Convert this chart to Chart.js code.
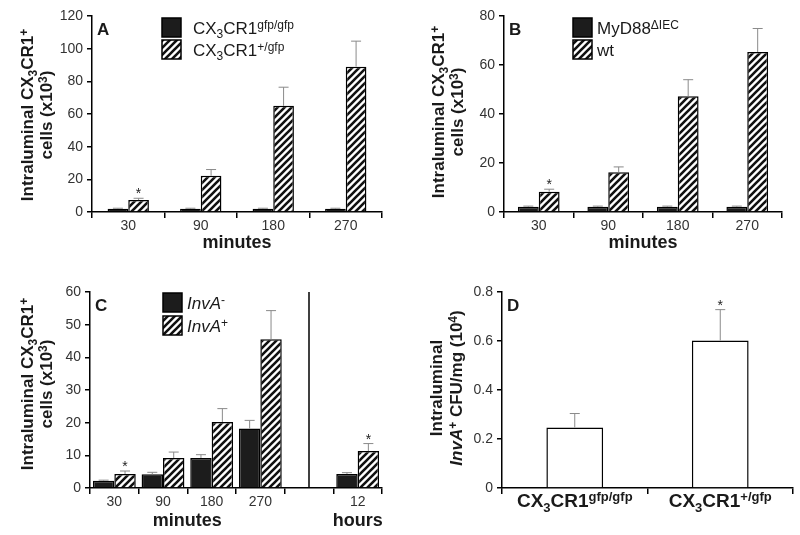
<!DOCTYPE html>
<html>
<head>
<meta charset="utf-8">
<script src="https://cdn.jsdelivr.net/npm/chart.js@4.4.1/dist/chart.umd.min.js"></script>
<style>
    html, body { margin: 0; padding: 0; background: #fff; }
    #wrap { position: relative; width: 800px; height: 535px; }
    #wrap canvas { position: absolute; }
</style>
</head>
<body>
<div id="wrap">
    <canvas id="chartA" width="400" height="260" style="left:0;top:0"></canvas>
    <canvas id="chartB" width="400" height="260" style="left:400px;top:0"></canvas>
    <canvas id="chartC" width="400" height="275" style="left:0;top:260px"></canvas>
    <canvas id="chartD" width="400" height="275" style="left:400px;top:260px"></canvas>
</div>
<script>
/* ---------- data ---------- */
// A: CX3CR1 gfp/gfp vs +/gfp
const minuteLabels = ["30", "90", "180", "270"];
const aKoMean = [2, 2, 2, 2];
const aKoErr = [0.3, 0.3, 0.3, 0.3];
const aHetMean = [7.3, 22.2, 65, 89];
const aHetErr = [1.1, 3.8, 11.4, 15.6];
const aHetStars = ["*", "", "", ""];

// B: MyD88 dIEC vs wt
const bKoMean = [2.1, 2.1, 2.1, 2.1];
const bKoErr = [0.3, 0.3, 0.3, 0.3];
const bWtMean = [8.3, 16.2, 47.2, 65.3];
const bWtErr = [1, 2.2, 6.8, 9.6];
const bWtStars = ["*", "", "", ""];

// C: InvA- vs InvA+ (minutes, then hours)
const cLabels = ["30", "90", "180", "270", "", "12"];
const cNegMean = [2.2, 4.2, 9.2, 18.2, null, 4.3];
const cNegErr = [0.2, 0.6, 1.0, 2.5, null, 0.4];
const cPosMean = [4.3, 9.2, 20.2, 45.5, null, 11.3];
const cPosErr = [0.9, 1.8, 4.1, 8.8, null, 2.3];
const cPosStars = ["*", "", "", "", "", "*"];

// D: InvA+ CFU/mg
const dLabels = ["CX_{3}CR1^{gfp/gfp}", "CX_{3}CR1^{+/gfp}"];
const dMean = [0.247, 0.602];
const dErr = [0.057, 0.126];
const dStars = ["", "*"];

const cellsTitle = ["Intraluminal CX_{3}CR1^{+}", "cells (x10^{3})"];
const cfuTitle = ["Intraluminal", "~{InvA}^{+} CFU/mg (10^{4})"];

/* ---------- helpers ---------- */
const FONT = '"Liberation Sans", Arial, sans-serif';

function hatchPattern(){
    const s = 7;
    const c = document.createElement("canvas");
    c.width = s; c.height = s;
    const g = c.getContext("2d");
    g.fillStyle = "#fff";
    g.fillRect(0, 0, s, s);
    g.strokeStyle = "#111";
    g.lineWidth = 2.6;
    g.beginPath();
    g.moveTo(-1, 1); g.lineTo(1, -1);
    g.moveTo(-1, s + 1); g.lineTo(s + 1, -1);
    g.moveTo(s - 1, s + 1); g.lineTo(s + 1, s - 1);
    g.stroke();
    return g.createPattern(c, "repeat");
}
const HATCH = hatchPattern();
const SOLID = "#1c1c1c";

// tiny markup: _{sub} ^{sup} ~{italic}
function parseRich(str){
    const parts = [];
    const re = /([_^~])\{([^}]*)\}/g;
    let last = 0, m;
    while ((m = re.exec(str))) {
        if (m.index > last) parts.push({ t: str.slice(last, m.index) });
        parts.push({ t: m[2], k: m[1] });
        last = re.lastIndex;
    }
    if (last < str.length) parts.push({ t: str.slice(last) });
    return parts;
}

function drawRich(ctx, str, x, y, size, weight, align){
    const parts = parseRich(str);
    const small = Math.round(size * 0.7);
    const fontFor = (p) => `${p.k === "~" ? "italic " : ""}${weight} ${p.k === "_" || p.k === "^" ? small : size}px ${FONT}`;
    let w = 0;
    parts.forEach((p) => { ctx.font = fontFor(p); p.w = ctx.measureText(p.t).width; w += p.w; });
    let cx = align === "center" ? x - w / 2 : x;
    ctx.textAlign = "left";
    ctx.textBaseline = "alphabetic";
    parts.forEach((p) => {
        ctx.font = fontFor(p);
        const dy = p.k === "_" ? size * 0.25 : p.k === "^" ? -size * 0.32 : 0;
        ctx.fillText(p.t, cx, y + dy);
        cx += p.w;
    });
}

/* ---------- plugins ---------- */
const errorBars = {
    id: "errorBars",
    afterDatasetsDraw(chart){
        const ctx = chart.ctx, ys = chart.scales.y;
        chart.data.datasets.forEach((ds, i) => {
            if (!ds.errors) return;
            chart.getDatasetMeta(i).data.forEach((bar, j) => {
                const v = ds.data[j], e = ds.errors[j];
                if (v == null || e == null) return;
                const top = ys.getPixelForValue(v + e);
                ctx.save();
                ctx.strokeStyle = "#8a8a8a";
                ctx.lineWidth = 1;
                ctx.beginPath();
                ctx.moveTo(bar.x, bar.y);
                ctx.lineTo(bar.x, top);
                ctx.moveTo(bar.x - 5, top);
                ctx.lineTo(bar.x + 5, top);
                ctx.stroke();
                if (ds.stars && ds.stars[j]) {
                    ctx.fillStyle = "#222";
                    ctx.font = `14px ${FONT}`;
                    ctx.textAlign = "center";
                    ctx.textBaseline = "alphabetic";
                    ctx.fillText(ds.stars[j], bar.x, top);
                }
                ctx.restore();
            });
        });
    }
};

const panelDecor = {
    id: "panelDecor",
    afterDraw(chart, args, o){
        const ctx = chart.ctx, area = chart.chartArea, xs = chart.scales.x;
        ctx.save();
        ctx.fillStyle = "#1a1a1a";

        // panel letter
        ctx.font = `bold 17px ${FONT}`;
        ctx.textAlign = "left";
        ctx.textBaseline = "alphabetic";
        ctx.fillText(o.letter, area.left + 5, area.top + 19);

        // rotated y title
        o.yTitle.forEach((line, i) => {
            ctx.save();
            ctx.translate(o.yTitleX[i], o.yTitleMid);
            ctx.rotate(-Math.PI / 2);
            drawRich(ctx, line, 0, 0, 17, "bold", "center");
            ctx.restore();
        });

        // x titles (minutes / hours)
        (o.xTitles || []).forEach((t) => {
            const cx = (xs.getPixelForValue(t.from) + xs.getPixelForValue(t.to)) / 2;
            drawRich(ctx, t.text, cx, o.xTitleY, 18, "bold", "center");
        });

        // legend
        if (o.legend) {
            const L = o.legend;
            L.items.forEach((it, i) => {
                const y = L.y + i * L.step;
                ctx.fillStyle = chart.data.datasets[it.ds].backgroundColor;
                ctx.fillRect(L.x, y, 19, 19);
                ctx.strokeStyle = "#000";
                ctx.lineWidth = 1.5;
                ctx.strokeRect(L.x, y, 19, 19);
                ctx.fillStyle = "#1a1a1a";
                drawRich(ctx, it.text, L.textX, y + 16, 17, "normal", "left");
            });
        }

        // separator between minutes and hours
        if (o.divider != null) {
            const x = xs.getPixelForValue(o.divider);
            ctx.strokeStyle = "#000";
            ctx.lineWidth = 1.5;
            ctx.beginPath();
            ctx.moveTo(x, area.top);
            ctx.lineTo(x, area.bottom);
            ctx.stroke();
        }

        // rich category labels
        if (o.richTicks) {
            ctx.fillStyle = "#1a1a1a";
            o.richTicks.forEach((lbl, i) => drawRich(ctx, lbl, xs.getPixelForValue(i), o.richTickY, 19, "bold", "center"));
        }
        ctx.restore();
    }
};

function makeChart(id, cfg){
    return new Chart(document.getElementById(id), {
        type: "bar",
        data: { labels: cfg.labels, datasets: cfg.datasets },
        options: {
            responsive: false,
            animation: false,
            events: [],
            layout: { padding: cfg.padding },
            datasets: { bar: { categoryPercentage: cfg.catPct, barPercentage: 1, borderColor: "#000", borderWidth: 1.5 } },
            scales: {
                x: {
                    ticks: { color: cfg.hideXTicks ? "rgba(0,0,0,0)" : "#333", font: { size: 14, family: FONT }, padding: 0, maxRotation: 0, autoSkip: false },
                    grid: { drawOnChartArea: false, tickLength: 6, color: "#000", lineWidth: 1.5, offset: true },
                    border: { color: "#000", width: 1.5 },
                    afterFit: (s) => { s.height = cfg.xHeight; },
                },
                y: {
                    min: 0,
                    max: cfg.yMax,
                    ticks: { stepSize: cfg.yStep, color: "#333", font: { size: 14, family: FONT }, padding: 4 },
                    grid: { drawOnChartArea: false, tickLength: 5, color: "#000", lineWidth: 1.5 },
                    border: { color: "#000", width: 1.5 },
                    afterFit: (s) => { s.width = cfg.yWidth; },
                },
            },
            plugins: {
                legend: { display: false },
                tooltip: { enabled: false },
                panelDecor: cfg.decor,
            },
        },
        plugins: [errorBars, panelDecor],
    });
}

/* ---------- panels ---------- */
makeChart("chartA", {
    labels: minuteLabels,
    datasets: [
        { label: "CX3CR1 gfp/gfp", data: aKoMean, errors: aKoErr, backgroundColor: SOLID },
        { label: "CX3CR1 +/gfp", data: aHetMean, errors: aHetErr, stars: aHetStars, backgroundColor: HATCH },
    ],
    padding: { left: 0, right: 18, top: 16, bottom: 0 },
    catPct: 0.57, yMax: 120, yStep: 20, yWidth: 92, xHeight: 48,
    decor: {
        letter: "A",
        yTitle: cellsTitle, yTitleX: [33, 52], yTitleMid: 115,
        xTitles: [{ text: "minutes", from: 0, to: 3 }], xTitleY: 248,
        legend: { x: 162, y: 18, step: 22, textX: 193, items: [
            { ds: 0, text: "CX_{3}CR1^{gfp/gfp}" },
            { ds: 1, text: "CX_{3}CR1^{+/gfp}" },
        ] },
    },
});

makeChart("chartB", {
    labels: minuteLabels,
    datasets: [
        { label: "MyD88 dIEC", data: bKoMean, errors: bKoErr, backgroundColor: SOLID },
        { label: "wt", data: bWtMean, errors: bWtErr, stars: bWtStars, backgroundColor: HATCH },
    ],
    padding: { left: 0, right: 18, top: 16, bottom: 0 },
    catPct: 0.6, yMax: 80, yStep: 20, yWidth: 104, xHeight: 48,
    decor: {
        letter: "B",
        yTitle: cellsTitle, yTitleX: [44, 63], yTitleMid: 112,
        xTitles: [{ text: "minutes", from: 0, to: 3 }], xTitleY: 248,
        legend: { x: 173, y: 18, step: 22, textX: 197, items: [
            { ds: 0, text: "MyD88^{ΔIEC}" },
            { ds: 1, text: "wt" },
        ] },
    },
});

makeChart("chartC", {
    labels: cLabels,
    datasets: [
        { label: "InvA-", data: cNegMean, errors: cNegErr, backgroundColor: SOLID },
        { label: "InvA+", data: cPosMean, errors: cPosErr, stars: cPosStars, backgroundColor: HATCH },
    ],
    padding: { left: 0, right: 18, top: 32, bottom: 0 },
    catPct: 0.88, yMax: 60, yStep: 10, yWidth: 90, xHeight: 47,
    decor: {
        letter: "C",
        yTitle: cellsTitle, yTitleX: [33, 52], yTitleMid: 124,
        xTitles: [{ text: "minutes", from: 0, to: 3 }, { text: "hours", from: 5, to: 5 }], xTitleY: 266,
        divider: 4,
        legend: { x: 163, y: 33, step: 23, textX: 187, items: [
            { ds: 0, text: "~{InvA}^{-}" },
            { ds: 1, text: "~{InvA}^{+}" },
        ] },
    },
});

makeChart("chartD", {
    labels: dLabels,
    datasets: [
        { label: "InvA+ CFU/mg", data: dMean, errors: dErr, stars: dStars, backgroundColor: "#fff" },
    ],
    padding: { left: 0, right: 7, top: 32, bottom: 0 },
    catPct: 0.39, yMax: 0.8, yStep: 0.2, yWidth: 102, xHeight: 47,
    hideXTicks: true,
    decor: {
        letter: "D",
        yTitle: cfuTitle, yTitleX: [42, 62], yTitleMid: 128,
        richTicks: dLabels, richTickY: 247,
    },
});
</script>
</body>
</html>
